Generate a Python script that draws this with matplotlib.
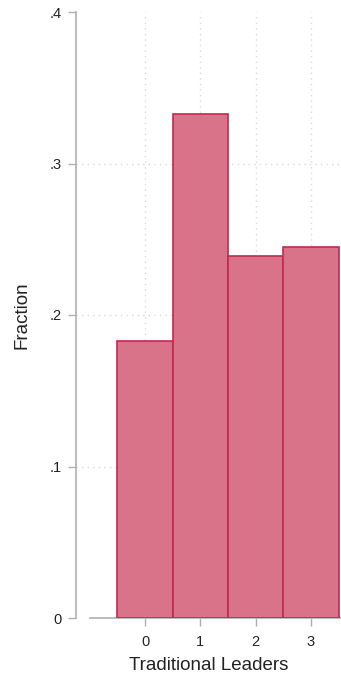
import matplotlib
matplotlib.use("Agg")
import matplotlib.pyplot as plt

# Histogram of the number of traditional leaders (fraction of observations)
categories = [0, 1, 2, 3]
fractions = [0.183, 0.333, 0.239, 0.245]
yticks = [0, 0.1, 0.2, 0.3, 0.4]
ytick_labels = ["0", ".1", ".2", ".3", ".4"]

plt.rcParams["font.family"] = ["Liberation Sans", "DejaVu Sans"]

W, H, DPI = 341, 678, 100
fig = plt.figure(figsize=(W / DPI, H / DPI), dpi=DPI)
left_px, right_px, top_px, bottom_px = 76, 341, 12, 618
ax = fig.add_axes([left_px / W, 1 - bottom_px / H,
                   (right_px - left_px) / W, (bottom_px - top_px) / H])

grid_color = "#d9d9d9"
axis_color = "#b0b0b0"
dotted = (0, (1, 3))

ax.bar(categories, fractions, width=1.0, align="center",
       color="#d8738a", edgecolor="#c02a50", linewidth=1.2, zorder=3)

ax.set_xlim(-1.248, 3.544)
ax.set_ylim(0, 0.4)

ax.set_yticks(yticks)
ax.set_yticklabels(ytick_labels)
ax.set_xticks(categories)
ax.set_xticklabels([str(c) for c in categories])

# dotted grid lines (vertical at each category, horizontal below the top tick)
for c in categories:
    ax.axvline(c, color=grid_color, linestyle=dotted, linewidth=1.0, zorder=0)
for yv in yticks[:-1]:
    ax.axhline(yv, color=grid_color, linestyle=dotted, linewidth=1.0, zorder=0)

for side in ["top", "right"]:
    ax.spines[side].set_visible(False)
ax.spines["left"].set_color(axis_color)
ax.spines["left"].set_linewidth(1.2)
ax.spines["bottom"].set_color(axis_color)
ax.spines["bottom"].set_linewidth(1.2)
ax.spines["bottom"].set_bounds(-1.0, 3.544)

ax.tick_params(axis="both", colors=axis_color, labelcolor="#222222",
               labelsize=10.5, length=6, width=1.0, direction="out")
ax.tick_params(axis="y", pad=4)
ax.tick_params(axis="x", pad=6)

ax.set_ylabel("Fraction", fontsize=13.5, color="#222222", labelpad=14)
ax.set_xlabel("Traditional Leaders", fontsize=13.5, color="#222222", labelpad=6)

fig.savefig("out.png", dpi=DPI, facecolor="white")
